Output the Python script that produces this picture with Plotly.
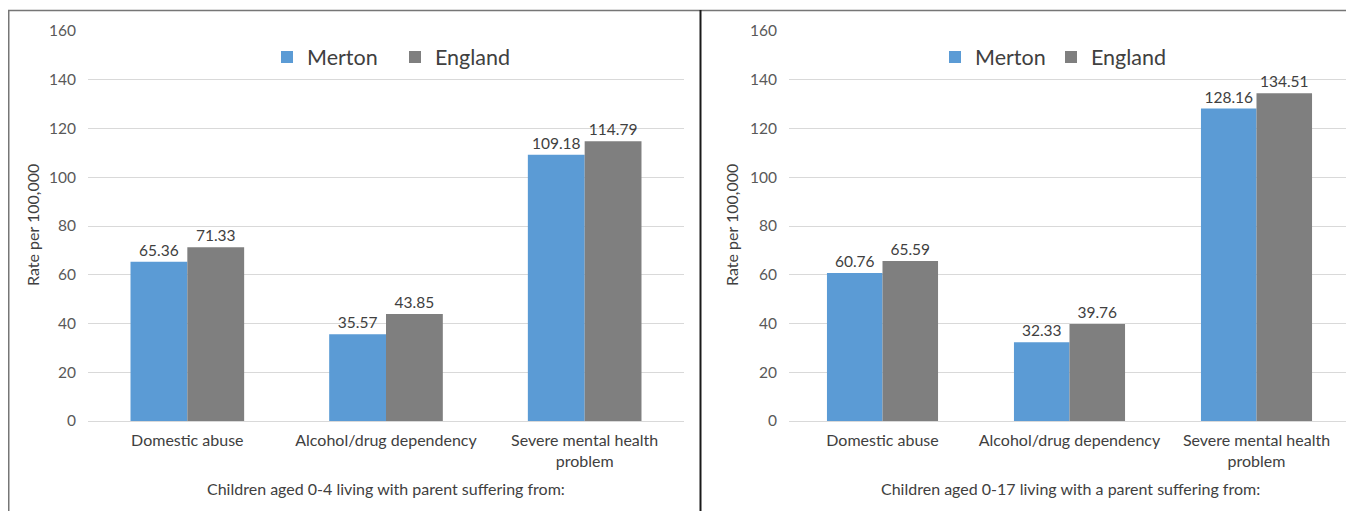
import plotly.graph_objects as go

categories = ["Domestic abuse", "Alcohol/drug dependency", "Severe mental health<br>problem"]
merton_0_4 = [65.36, 35.57, 109.18]
england_0_4 = [71.33, 43.85, 114.79]
merton_0_17 = [60.76, 32.33, 128.16]
england_0_17 = [65.59, 39.76, 134.51]
series_names = ["Merton", "England"]
y_ticks = [0, 20, 40, 60, 80, 100, 120, 140, 160]
left_title = "Children aged 0-4 living with parent suffering from:"
right_title = "Children aged 0-17 living with a parent suffering from:"
y_title = "Rate per 100,000"

# page has an 8px body margin, so the figure is 1346x503 placed at (8, 8)
W, H = 1346, 503
BLUE = "#5B9BD5"
GRAY = "#7F7F7F"
FONT = "Lato, Carlito, Calibri, sans-serif"

def px(x):
    return x / W

def py(y):
    return 1 - y / H

fig = go.Figure()
label_font = dict(family=FONT, size=15.5, color="#404040")

for vals, name, color, xa, ya, leg, w, off in [
    (merton_0_4, series_names[0], BLUE, "x", "y", "legend", 0.286, -0.286),
    (england_0_4, series_names[1], GRAY, "x", "y", "legend", 0.286, 0.0),
    (merton_0_17, series_names[0], BLUE, "x2", "y2", "legend2", 0.297, -0.297),
    (england_0_17, series_names[1], GRAY, "x2", "y2", "legend2", 0.297, 0.0),
]:
    fig.add_trace(go.Bar(
        x=categories, y=vals, name=name, marker=dict(color=color, line=dict(width=0)),
        width=w, offset=off,
        text=[f"{v:.2f}" for v in vals], textposition="outside", textfont=label_font,
        cliponaxis=False, xaxis=xa, yaxis=ya, legend=leg,
    ))

yaxis_common = dict(
    range=[0, 160], tickvals=y_ticks, showgrid=True, gridcolor="#D9D9D9", gridwidth=1,
    zeroline=True, zerolinecolor="#D9D9D9", zerolinewidth=1, showline=False,
    tickfont=dict(family=FONT, size=15.5, color="#595959"), ticks="", ticklabelstandoff=11,
)
xaxis_common = dict(
    showline=False, ticks="", tickfont=dict(family=FONT, size=16, color="#404040"),
    ticklabelstandoff=8,
)
legend_common = dict(orientation="h", yanchor="middle", xanchor="left",
                     font=dict(family=FONT, size=21.5, color="#404040"),
                     bgcolor="rgba(0,0,0,0)", itemwidth=30, tracegroupgap=0,
                     entrywidthmode="pixels")

fig.update_layout(
    width=W, height=H, margin=dict(l=0, r=0, t=0, b=0, autoexpand=False),
    paper_bgcolor="white", plot_bgcolor="white",
    barmode="overlay",
    font=dict(family=FONT, color="#404040"),
    xaxis=dict(domain=[px(80), px(676)], anchor="y", **xaxis_common),
    yaxis=dict(domain=[py(413), py(23)], anchor="x", **yaxis_common),
    xaxis2=dict(domain=[px(781), px(1342)], anchor="y2", **xaxis_common),
    yaxis2=dict(domain=[py(413), py(23)], anchor="x2", **yaxis_common),
    legend=dict(x=px(259), y=py(49), entrywidth=83, **legend_common),
    legend2=dict(x=px(927), y=py(49), entrywidth=71, **legend_common),
    annotations=[
        dict(text=left_title, x=px(378), y=py(480), xref="paper", yref="paper",
             xanchor="center", yanchor="middle",
             showarrow=False, font=dict(family=FONT, size=16, color="#404040")),
        dict(text=right_title, x=px(1062), y=py(480), xref="paper", yref="paper",
             xanchor="center", yanchor="middle",
             showarrow=False, font=dict(family=FONT, size=16, color="#404040")),
        dict(text=y_title, x=px(24), y=py(217), xref="paper", yref="paper", textangle=-90,
             xanchor="center", yanchor="middle",
             showarrow=False, font=dict(family=FONT, size=16, color="#404040")),
        dict(text=y_title, x=px(723), y=py(217), xref="paper", yref="paper", textangle=-90,
             xanchor="center", yanchor="middle",
             showarrow=False, font=dict(family=FONT, size=16, color="#404040")),
    ],
    shapes=[
        dict(type="line", xref="paper", yref="paper", x0=0, x1=1, y0=py(2.5), y1=py(2.5),
             line=dict(color="#767676", width=1.5)),
        dict(type="line", xref="paper", yref="paper", x0=px(0.75), x1=px(0.75), y0=py(2), y1=0,
             line=dict(color="#767676", width=1.5)),
        dict(type="line", xref="paper", yref="paper", x0=px(692.5), x1=px(692.5), y0=py(2), y1=0,
             line=dict(color="#1a1a1a", width=2)),
    ],
)

fig.write_html("out.html")
